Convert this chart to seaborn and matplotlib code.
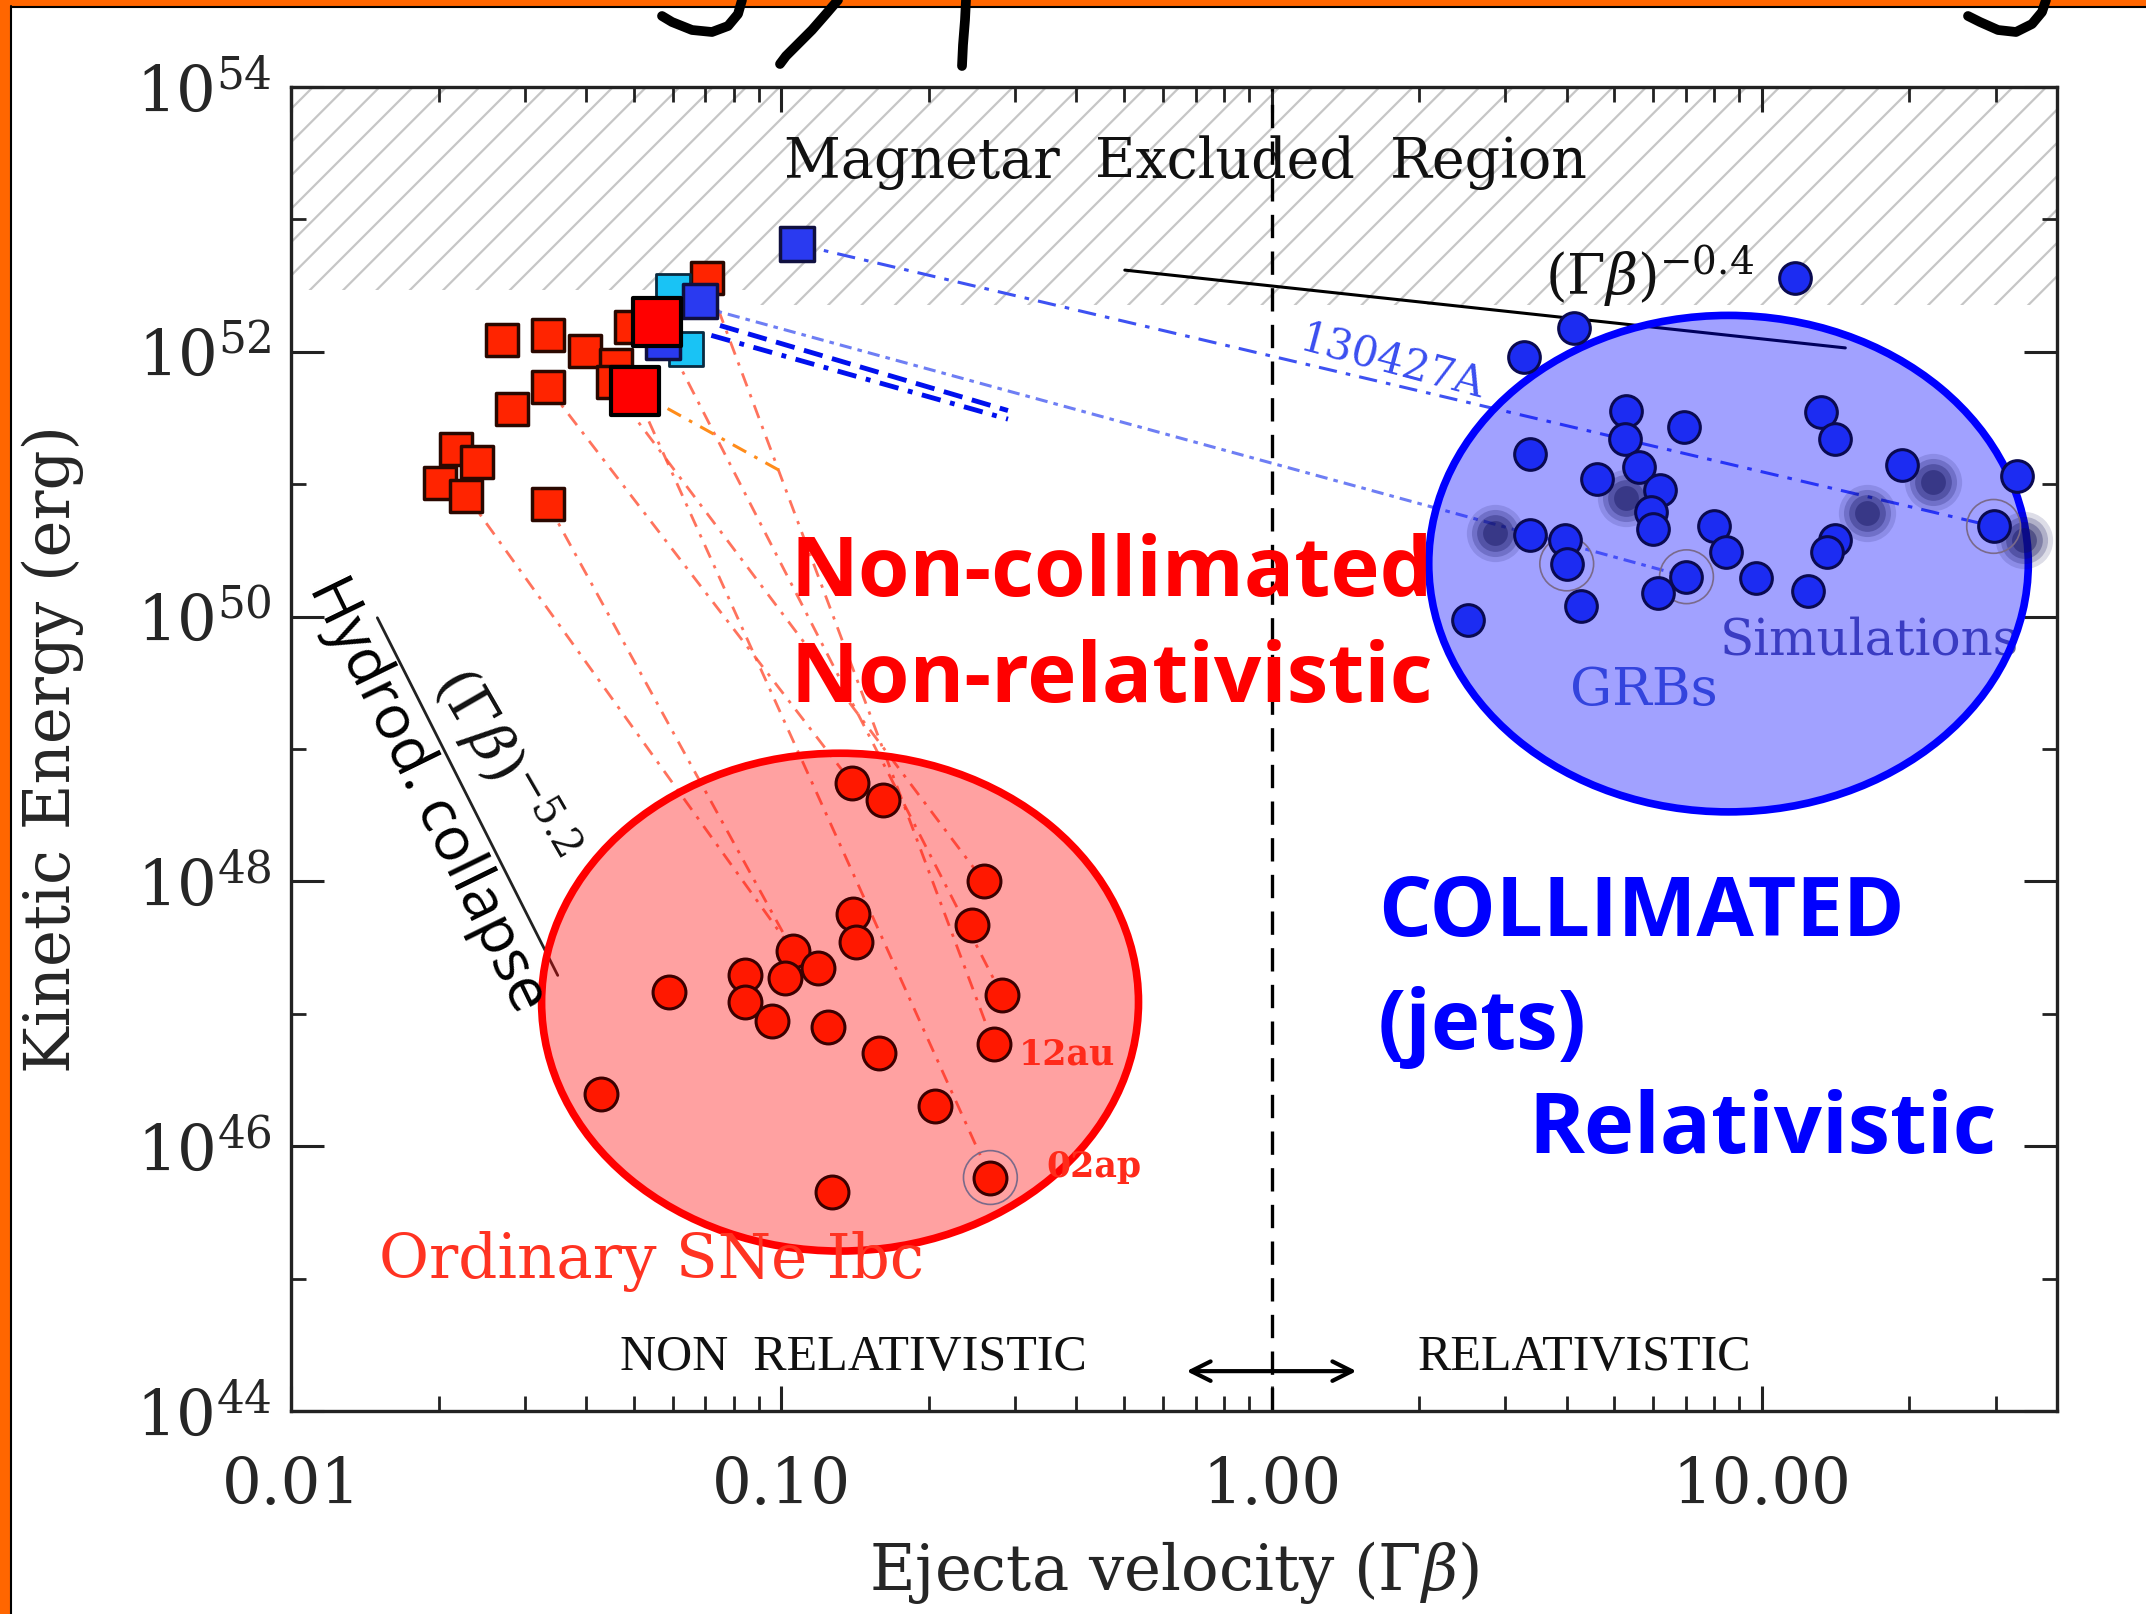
import numpy as np
import pandas as pd
import matplotlib
matplotlib.use('Agg')
import matplotlib.pyplot as plt
import seaborn as sns
from matplotlib.patches import Ellipse, Rectangle
from matplotlib.lines import Line2D
from matplotlib.ticker import LogLocator, NullFormatter

# ---------------- data ----------------
# SNe Ibc early-time points (squares)
sq_x = [0.0269, 0.0334, 0.0397, 0.0334, 0.0283, 0.0461, 0.0453, 0.0494, 0.0704,
        0.0217, 0.0239, 0.0201, 0.0228, 0.0334]
sq_E = [1.22e52, 1.33e52, 1.02e52, 5.4e51, 3.7e51, 7.9e51, 5.9e51, 1.54e52, 3.6e52,
        1.85e51, 1.47e51, 1.03e51, 8.2e50, 7.1e50]
big_sq_x = [0.0558, 0.0503]
big_sq_E = [1.69e52, 5.1e51]
cyan_sq_x = [0.0602, 0.0640]
cyan_sq_E = [2.9e52, 1.05e52]
blue_sq_x = [0.0682, 0.0574, 0.1077]
blue_sq_E = [2.4e52, 1.19e52, 6.5e52]

# ordinary SNe Ibc (red circles)
sn_x = [0.1396, 0.161, 0.259, 0.140, 0.142, 0.245, 0.1056, 0.1017, 0.1187, 0.0845,
        0.0845, 0.0958, 0.0591, 0.1243, 0.282, 0.271, 0.158, 0.0429, 0.2054, 0.267, 0.1267]
sn_E = [5.5e48, 4.1e48, 1.0e48, 5.7e47, 3.5e47, 4.7e47, 3.0e47, 1.85e47, 2.2e47, 1.95e47,
        1.23e47, 8.9e46, 1.46e47, 7.9e46, 1.38e47, 5.9e46, 5.1e46, 2.5e46, 2.0e46, 5.8e45, 4.5e45]

# GRBs (blue circles)
grb_x = [11.7, 4.14, 3.27, 5.29, 13.2, 5.26, 6.93, 14.1, 3.37, 5.61, 4.62, 6.21, 5.94, 6.0,
         19.3, 33.1, 3.37, 3.96, 4.0, 7.98, 8.46, 7.02, 6.13, 9.75, 14.1, 13.6, 12.4, 29.7,
         4.28, 2.52]
grb_E = [3.6e52, 1.5e52, 9.1e51, 3.6e51, 3.5e51, 2.2e51, 2.7e51, 2.2e51, 1.7e51, 1.35e51,
         1.1e51, 9.1e50, 6.2e50, 4.6e50, 1.4e51, 1.15e51, 4.1e50, 3.8e50, 2.5e50, 4.8e50,
         3.1e50, 2.0e50, 1.5e50, 1.95e50, 3.8e50, 3.1e50, 1.55e50, 4.8e50, 1.2e50, 9.5e49]

# simulations (blurred dots)
sim_x = [2.85, 5.28, 16.4, 22.3, 34.2]
sim_E = [4.3e50, 7.8e50, 6.1e50, 1.04e51, 3.8e50]

# circled objects
ring_x = [0.267, 4.0, 7.02, 29.7]
ring_E = [5.8e45, 2.5e50, 2.0e50, 4.8e50]

# evolution tracks (start -> end)
red_trk_x0 = [0.0228, 0.0334, 0.0334, 0.0503, 0.0558, 0.0397, 0.0704]
red_trk_E0 = [8.2e50, 7.1e50, 5.4e51, 5.1e51, 1.69e52, 1.02e52, 3.6e52]
red_trk_x1 = [0.1056, 0.1056, 0.1396, 0.267, 0.282, 0.259, 0.271]
red_trk_E1 = [3.0e47, 3.0e47, 5.5e48, 5.8e45, 1.38e47, 1.0e48, 5.9e46]
orange_trk_x = [0.0503, 0.1007]
orange_trk_E = [5.1e51, 1.23e51]
b1_x = [0.1077, 29.7]
b1_E = [6.5e52, 4.8e50]
b2_x = [0.0682, 7.02]
b2_E = [2.2e52, 2.0e50]
b3_x = [0.075, 0.29]
b3_E = [1.58e52, 3.6e51]
b4_x = [0.072, 0.29]
b4_E = [1.33e52, 3.1e51]

# power laws
pl04_x = [0.502, 14.8]
pl04_E = [4.14e52, 1.07e52]
pl52_x = [0.0150, 0.0350]
pl52_E = [9.8e49, 1.95e47]

# excluded region
excl_x = [0.01, 0.09, 0.09, 40]
excl_lo = [2.95e52, 2.95e52, 2.25e52, 2.25e52]
excl_hi = 1e54

# arrow
arrow_x = [0.662, 1.51]
arrow_E = 2.0e44

# axes ticks
xticks = [0.01, 0.1, 1.0, 10.0]
xticklabels = ['0.01', '0.10', '1.00', '10.00']
yticks = [1e44, 1e46, 1e48, 1e50, 1e52, 1e54]
yticklabels = [r'$10^{44}$', r'$10^{46}$', r'$10^{48}$', r'$10^{50}$', r'$10^{52}$', r'$10^{54}$']
yminor = [1e45, 1e47, 1e49, 1e51, 1e53]

# ---------------- style ----------------
sns.set_style('ticks')
plt.rcParams['font.family'] = ['DejaVu Serif', 'DejaVu Sans']
plt.rcParams['mathtext.fontset'] = 'dejavuserif'
plt.rcParams['hatch.linewidth'] = 1.6

W, H = 2146, 1614
fig = plt.figure(figsize=(W / 100, H / 100), dpi=100)
fig.patch.set_facecolor('white')
ax = fig.add_axes([291 / W, 1 - 1411 / H, (2057 - 291) / W, (1411 - 87) / H])
ax.set_facecolor('white')
ax.set_xscale('log')
ax.set_yscale('log')
ax.set_xlim(0.01, 40)
ax.set_ylim(1e44, 1e54)

# excluded region hatch
ax.fill_between(excl_x, excl_lo, excl_hi, facecolor='white', edgecolor='#c6c6c6',
                hatch='/', linewidth=0, zorder=0)

# vertical line at Gamma*beta = 1
ax.axvline(1.0, color='black', lw=2.4, ls=(0, (7, 4)), zorder=1)

# tracks
red_ls = (0, (5, 3, 1.2, 3))
for x0, e0, x1, e1 in zip(red_trk_x0, red_trk_E0, red_trk_x1, red_trk_E1):
    ax.plot([x0, x1], [e0, e1], color='#ff5a40', lw=2.0, ls=red_ls, alpha=0.85, zorder=2)
ax.plot(orange_trk_x, orange_trk_E, color='#ff8c1a', lw=2.2, ls=red_ls, zorder=2)
ax.plot(b1_x, b1_E, color='#3e52f2', lw=2.2, ls=(0, (6, 3, 1.5, 3)), zorder=2)
ax.plot(b2_x, b2_E, color='#6e7ef4', lw=2.2, ls=(0, (4, 2, 1.5, 2)), zorder=2)
ax.plot(b3_x, b3_E, color='#0010ee', lw=3.5, ls=(0, (4, 2)), zorder=2)
ax.plot(b4_x, b4_E, color='#0010ee', lw=3.5, ls=(0, (4, 2, 1, 2)), zorder=2)

# power-law guide lines
ax.plot(pl04_x, pl04_E, color='black', lw=2.2, zorder=2)
ax.plot(pl52_x, pl52_E, color='#222222', lw=2.0, zorder=2)

# labels under ellipses
ax.text(0.894, 0.582, 'Simulations', transform=ax.transAxes, fontsize=36,
        color='#5c60a0', ha='center', va='center', zorder=2)

# ellipses
ax.add_patch(Ellipse((0.3109, 0.3088), 0.338, 0.376, transform=ax.transAxes,
                     facecolor=(1, 0, 0, 0.37), edgecolor='#ff0000', lw=5.5, zorder=3))
ax.add_patch(Ellipse((0.814, 0.640), 0.3395, 0.375, transform=ax.transAxes,
                     facecolor=(0, 0, 1, 0.37), edgecolor='#0000ff', lw=5.5, zorder=3))

# simulations blur
for s, a in [(1700, 0.14), (1150, 0.22), (700, 0.30), (320, 0.40)]:
    sns.scatterplot(x=sim_x, y=sim_E, s=s, color='#10105a', alpha=a, linewidth=0,
                    ax=ax, zorder=4, legend=False)

# rings
sns.scatterplot(x=ring_x, y=ring_E, s=1500, facecolors='none', edgecolor='#7a6a8a',
                linewidth=1.2, ax=ax, zorder=4, legend=False)

# markers
sns.scatterplot(x=sn_x, y=sn_E, marker='o', s=560, color='#ff1800',
                edgecolor='#3a0000', linewidth=2.2, ax=ax, zorder=5, legend=False)
sns.scatterplot(x=grb_x, y=grb_E, marker='o', s=520, color='#1c2cf2',
                edgecolor='#0a0a50', linewidth=2.2, ax=ax, zorder=5, legend=False)
sns.scatterplot(x=sq_x, y=sq_E, marker='s', s=560, color='#ff2400',
                edgecolor='#2a0800', linewidth=2.5, ax=ax, zorder=5, legend=False)
sns.scatterplot(x=cyan_sq_x, y=cyan_sq_E, marker='s', s=600, color='#19c3f5',
                edgecolor='#0a2a40', linewidth=2.0, ax=ax, zorder=6, legend=False)
sns.scatterplot(x=blue_sq_x, y=blue_sq_E, marker='s', s=600, color='#2a3af0',
                edgecolor='#101040', linewidth=2.5, ax=ax, zorder=6, legend=False)
sns.scatterplot(x=big_sq_x, y=big_sq_E, marker='s', s=1150, color='#ff0000',
                edgecolor='black', linewidth=3.0, ax=ax, zorder=7, legend=False)

# arrow
ax.annotate('', xy=(arrow_x[1], arrow_E), xytext=(arrow_x[0], arrow_E),
            arrowprops=dict(arrowstyle='<->', lw=3, color='black', mutation_scale=35),
            zorder=6)

# ---------------- texts ----------------
T = ax.transAxes
ax.text(0.5066, 0.943, 'Magnetar  Excluded  Region', transform=T, fontsize=40,
        ha='center', va='center', color='#111111', zorder=8)
ax.text(0.769, 0.857, r'$(\Gamma\beta)^{-0.4}$', transform=T, fontsize=40,
        ha='center', va='center', color='#111111', zorder=8)
ax.text(0.624, 0.792, '130427A', transform=T, fontsize=30, rotation=-15,
        ha='center', va='center', color='#3a4ef0', zorder=8, rotation_mode='anchor')
ax.text(0.766, 0.544, 'GRBs', transform=T, fontsize=38, ha='center', va='center',
        color='#3344dd', zorder=8)
ax.text(0.283, 0.632, 'Non-collimated', transform=T, fontsize=60, fontweight='bold',
        family=['Open Sans', 'DejaVu Sans'], ha='left', va='center', color='#ff0000', zorder=8)
ax.text(0.283, 0.552, 'Non-relativistic', transform=T, fontsize=60, fontweight='bold',
        family=['Open Sans', 'DejaVu Sans'], ha='left', va='center', color='#ff0000', zorder=8)
ax.text(0.6155, 0.375, 'COLLIMATED', transform=T, fontsize=60, fontweight='bold',
        family=['Open Sans', 'DejaVu Sans'], ha='left', va='center', color='#0000ff', zorder=8)
ax.text(0.6155, 0.290, '(jets)', transform=T, fontsize=60, fontweight='bold',
        family=['Open Sans', 'DejaVu Sans'], ha='left', va='center', color='#0000ff', zorder=8)
ax.text(0.7008, 0.2114, 'Relativistic', transform=T, fontsize=61, fontweight='bold',
        family=['Open Sans', 'DejaVu Sans'], ha='left', va='center', color='#0000ff', zorder=8)
ax.text(0.0496, 0.113, 'Ordinary SNe Ibc', transform=T, fontsize=44, ha='left',
        va='center', color='#ff3322', zorder=8)
ax.text(0.412, 0.269, '12au', transform=T, fontsize=25, fontweight='bold', ha='left',
        va='center', color='#ff2a1a', zorder=8)
ax.text(0.428, 0.184, '02ap', transform=T, fontsize=25, fontweight='bold', ha='left',
        va='center', color='#ff2a1a', zorder=8)
ax.text(0.3186, 0.0404, 'NON  RELATIVISTIC', transform=T, fontsize=36,
        family=['Liberation Serif', 'DejaVu Serif'], ha='center', va='center', color='#111111', zorder=8)
ax.text(0.7326, 0.0404, 'RELATIVISTIC', transform=T, fontsize=36,
        family=['Liberation Serif', 'DejaVu Serif'], ha='center', va='center', color='#111111', zorder=8)
ax.text(0.0772, 0.4653, 'Hydrod. collapse', transform=T, fontsize=44, rotation=-64,
        rotation_mode='anchor', family=['Open Sans', 'DejaVu Sans'], ha='center', va='center',
        color='black', zorder=8)
ax.text(0.121, 0.487, r'$(\Gamma\beta)^{-5.2}$', transform=T, fontsize=42, rotation=-60,
        rotation_mode='anchor', ha='center', va='center', color='#111111', zorder=8)

# ---------------- axes ----------------
ax.set_xticks(xticks)
ax.set_xticklabels(xticklabels)
ax.xaxis.set_minor_locator(LogLocator(base=10, subs=np.arange(2, 10)))
ax.xaxis.set_minor_formatter(NullFormatter())
ax.set_yticks(yticks)
ax.set_yticklabels(yticklabels)
ax.set_yticks(yminor, minor=True)
ax.yaxis.set_minor_formatter(NullFormatter())
ax.tick_params(which='both', direction='in', top=True, right=True, color='#222222')
ax.tick_params(axis='x', which='major', length=18, width=2.2, pad=32, labelsize=45)
ax.tick_params(axis='x', which='minor', length=11, width=2.0)
ax.tick_params(axis='y', which='major', length=24, width=2.2, pad=14, labelsize=45)
ax.tick_params(axis='y', which='minor', length=11, width=2.0)
for sp in ax.spines.values():
    sp.set_linewidth(2.4)
    sp.set_color('#222222')
    sp.set_zorder(9)

ax.set_xlabel(r'Ejecta velocity ($\Gamma\beta$)', fontsize=45)
ax.xaxis.set_label_coords(0.5, -0.097)
ax.set_ylabel('Kinetic Energy (erg)', fontsize=45)
ax.yaxis.set_label_coords(-0.117, 0.5)

# ---------------- frame & decorations ----------------
fig.add_artist(Rectangle((0, 0), 10 / W, 1, transform=fig.transFigure,
                         facecolor='#ff6600', edgecolor='none', zorder=10))
fig.add_artist(Rectangle((0, 1 - 6 / H), 1, 6 / H, transform=fig.transFigure,
                         facecolor='#ff6600', edgecolor='none', zorder=10))
fig.add_artist(Line2D([11 / W, 11 / W], [0, 1 - 6 / H], transform=fig.transFigure,
                      color='black', lw=1.5, zorder=11))
fig.add_artist(Line2D([11 / W, 1], [1 - 7 / H, 1 - 7 / H], transform=fig.transFigure,
                      color='black', lw=1.5, zorder=11))

# cut-off title strokes at the top edge
strokes = [
    ([742, 738, 728, 712, 692, 672, 662], [0, 14, 26, 32, 30, 22, 16]),
    ([838, 826, 812, 798, 786, 780], [0, 14, 30, 44, 56, 64]),
    ([966, 965, 963, 962], [0, 20, 45, 66]),
    ([2046, 2042, 2032, 2016, 1998, 1980, 1968], [0, 12, 24, 32, 30, 22, 16]),
]
for sx, sy in strokes:
    fig.add_artist(Line2D([v / W for v in sx], [1 - v / H for v in sy],
                          transform=fig.transFigure, color='black', lw=7,
                          solid_capstyle='round', zorder=12))

fig.savefig('out.png', dpi=100)
